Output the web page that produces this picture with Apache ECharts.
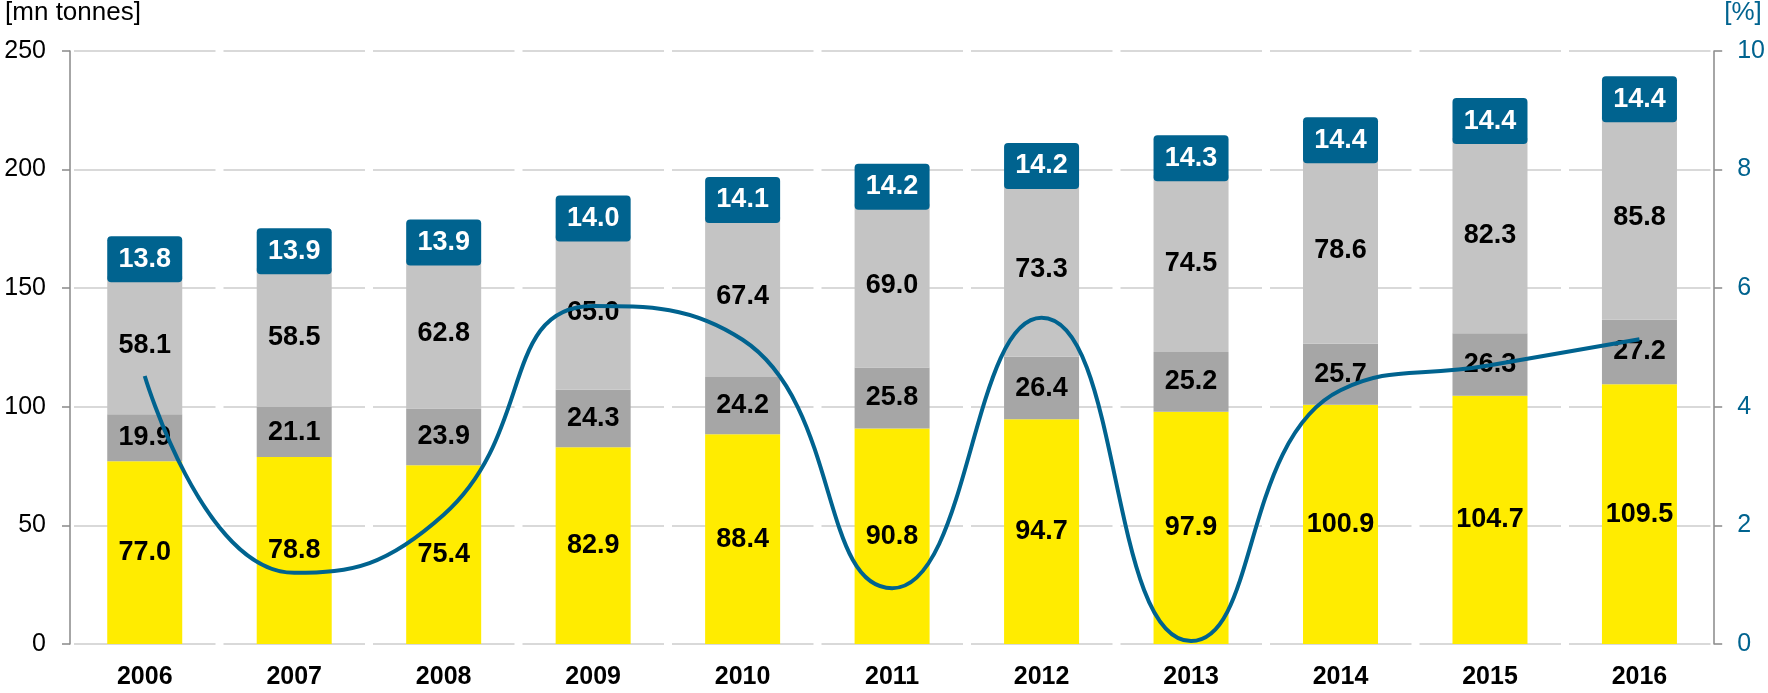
<!DOCTYPE html>
<html>
<head>
<meta charset="utf-8">
<script src="https://cdn.jsdelivr.net/npm/echarts@6/dist/echarts.min.js"></script>
<style>
  html, body { margin: 0; padding: 0; background: #fff; }
  #chart { width: 1768px; height: 693px; }
</style>
</head>
<body>
<div id="chart"></div>
<script>
const years = ['2006', '2007', '2008', '2009', '2010', '2011', '2012', '2013', '2014', '2015', '2016']
const yellowValues = [77.0, 78.8, 75.4, 82.9, 88.4, 90.8, 94.7, 97.9, 100.9, 104.7, 109.5]
const darkGreyValues = [19.9, 21.1, 23.9, 24.3, 24.2, 25.8, 26.4, 25.2, 25.7, 26.3, 27.2]
const lightGreyValues = [58.1, 58.5, 62.8, 65.0, 67.4, 69.0, 73.3, 74.5, 78.6, 82.3, 85.8]
const boxLabels = [13.8, 13.9, 13.9, 14.0, 14.1, 14.2, 14.2, 14.3, 14.4, 14.4, 14.4]
const percentValues = [4.52, 1.2, 2.18, 5.7, 5.13, 0.94, 5.5, 0.05, 4.28, 4.7, 5.14]

const blue = '#00638F'
const font = 'Liberation Sans, Arial, sans-serif'

const chart = echarts.init(document.getElementById('chart'))

const segLabel = {
  show: true,
  position: 'inside',
  color: '#000',
  fontFamily: font,
  fontWeight: 'bold',
  fontSize: 27,
  formatter: p => p.value.toFixed(1)
}

const option = {
  animation: false,
  grid: { left: 70, right: 53, top: 51, bottom: 49 },
  xAxis: {
    type: 'category',
    data: years,
    axisLine: { show: false },
    axisTick: { show: false },
    axisLabel: {
      color: '#000',
      fontFamily: font,
      fontWeight: 'bold',
      fontSize: 25,
      margin: 21
    }
  },
  yAxis: [
    {
      type: 'value',
      min: 0,
      max: 250,
      interval: 50,
      name: '[mn tonnes]',
      nameLocation: 'end',
      nameGap: 25,
      nameTextStyle: { color: '#000', fontFamily: font, fontSize: 26, align: 'center', padding: [0, 0, 0, 6] },
      axisLine: { show: true, lineStyle: { color: '#898989', width: 1.5 } },
      axisTick: { show: true, length: 8, lineStyle: { color: '#898989', width: 1.5 } },
      axisLabel: { color: '#000', fontFamily: font, fontSize: 25, margin: 24 },
      splitLine: {
        show: true,
        lineStyle: { color: '#D9D9D9', width: 2, type: [141.5, 8], dashOffset: -4 }
      }
    },
    {
      type: 'value',
      min: 0,
      max: 10,
      interval: 2,
      name: '[%]',
      nameLocation: 'end',
      nameGap: 25,
      nameTextStyle: { color: blue, fontFamily: font, fontSize: 26, align: 'left', padding: [0, 0, 0, 10] },
      axisLine: { show: true, lineStyle: { color: '#898989', width: 1.5 } },
      axisTick: { show: true, length: 8, lineStyle: { color: '#898989', width: 1.5 } },
      axisLabel: { color: blue, fontFamily: font, fontSize: 25, margin: 23 },
      splitLine: { show: false }
    }
  ],
  series: [
    {
      name: 'Yellow',
      type: 'bar',
      stack: 'total',
      barWidth: 75,
      itemStyle: { color: '#FFEC00' },
      label: segLabel,
      data: yellowValues
    },
    {
      name: 'Dark grey',
      type: 'bar',
      stack: 'total',
      barWidth: 75,
      itemStyle: { color: '#A6A6A6' },
      label: segLabel,
      data: darkGreyValues
    },
    {
      name: 'Light grey',
      type: 'bar',
      stack: 'total',
      barWidth: 75,
      itemStyle: { color: '#C4C4C4' },
      label: segLabel,
      data: lightGreyValues
    },
    {
      name: 'Box',
      type: 'bar',
      stack: 'total',
      barWidth: 75,
      itemStyle: { color: 'transparent' },
      label: {
        show: true,
        position: 'insideBottom',
        distance: -6,
        color: '#fff',
        fontFamily: font,
        fontWeight: 'bold',
        fontSize: 27,
        backgroundColor: blue,
        borderRadius: 4,
        width: 75,
        height: 46,
        lineHeight: 46,
        align: 'center',
        verticalAlign: 'bottom',
        formatter: p => boxLabels[p.dataIndex].toFixed(1)
      },
      data: years.map(() => 0.0001)
    },
    {
      name: 'Percent',
      type: 'line',
      yAxisIndex: 1,
      smooth: 0.5,
      showSymbol: false,
      z: 10,
      lineStyle: { color: blue, width: 4 },
      data: percentValues
    }
  ]
}

chart.setOption(option)
</script>
</body>
</html>
